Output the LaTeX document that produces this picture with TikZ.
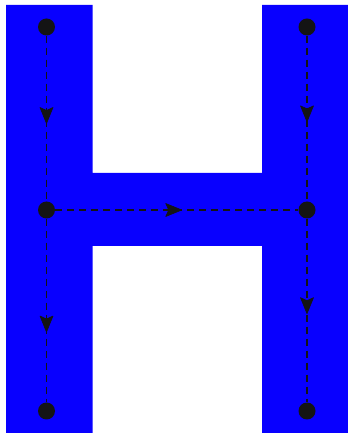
\documentclass[tikz,border=0pt]{standalone}
\usetikzlibrary{decorations.markings}
\definecolor{hblue}{RGB}{8,0,255}
\definecolor{dotc}{RGB}{20,20,20}
\tikzset{
  dot/.style={circle,fill=dotc,inner sep=0pt,minimum size=17pt},
  flow/.style={draw=dotc,line width=1.3pt,dash pattern=on 7pt off 5pt,
    postaction={decorate},
    decoration={markings,mark=at position #1 with {\filldraw[dotc,solid,line width=0.6pt,line join=round] (5pt,0) -- (-11pt,6.5pt) -- (-8pt,0) -- (-11pt,-6.5pt) -- cycle;}}},
  flow/.default=0.5,
  hshape/.style={fill=hblue,draw=none}
}
\begin{document}
\begin{tikzpicture}[x=1pt,y=1pt]
\useasboundingbox (0,0) rectangle (348,434);
\fill[hshape] (6,1) -- (92.5,1) -- (92.5,188) -- (262,188) -- (262,1) -- (348,1) -- (348,429)
  -- (262,429) -- (262,261) -- (92.5,261) -- (92.5,429) -- (6,429) -- cycle;
\node[dot] (a) at (46.5,407) {};
\node[dot] (b) at (46.5,224) {};
\node[dot] (c) at (46.5,23) {};
\node[dot] (d) at (307,407) {};
\node[dot] (e) at (307,224) {};
\node[dot] (f) at (307,23) {};
\draw[flow=0.5] (a) -- (b);
\draw[flow=0.59] (b) -- (c);
\draw[flow=0.5] (b) -- (e);
\draw[flow=0.49] (d) -- (e);
\draw[flow=0.49] (e) -- (f);
\end{tikzpicture}
\end{document}
